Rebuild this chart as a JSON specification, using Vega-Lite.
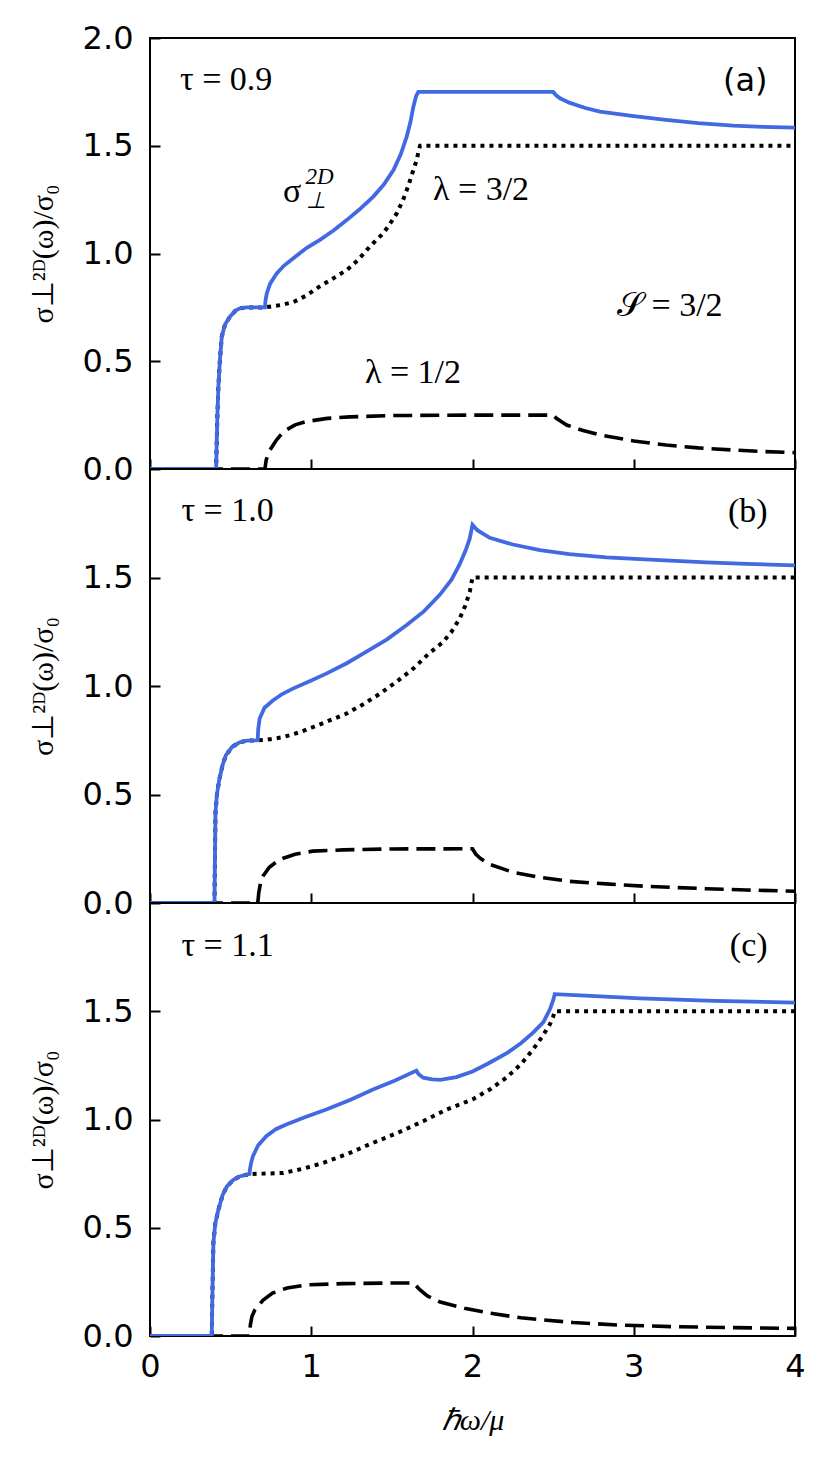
{
  "$schema": "https://vega.github.io/schema/vega-lite/v6.json",
  "padding": {"left": 27, "top": 21, "right": 5, "bottom": 5},
  "background": "white",
  "datasets": {
    "curves": [
      {"p": "a", "s": "tot", "x": 0, "y": 0}, {"p": "a", "s": "tot", "x": 0.41, "y": 0}, {"p": "a", "s": "tot", "x": 0.413, "y": 0.1},
      {"p": "a", "s": "tot", "x": 0.418, "y": 0.25}, {"p": "a", "s": "tot", "x": 0.424, "y": 0.38}, {"p": "a", "s": "tot", "x": 0.433, "y": 0.5},
      {"p": "a", "s": "tot", "x": 0.445, "y": 0.614}, {"p": "a", "s": "tot", "x": 0.465, "y": 0.67}, {"p": "a", "s": "tot", "x": 0.496, "y": 0.707},
      {"p": "a", "s": "tot", "x": 0.53, "y": 0.735}, {"p": "a", "s": "tot", "x": 0.558, "y": 0.746}, {"p": "a", "s": "tot", "x": 0.6, "y": 0.75},
      {"p": "a", "s": "tot", "x": 0.713, "y": 0.75}, {"p": "a", "s": "tot", "x": 0.716, "y": 0.78}, {"p": "a", "s": "tot", "x": 0.724, "y": 0.815},
      {"p": "a", "s": "tot", "x": 0.745, "y": 0.86}, {"p": "a", "s": "tot", "x": 0.786, "y": 0.908}, {"p": "a", "s": "tot", "x": 0.83, "y": 0.943},
      {"p": "a", "s": "tot", "x": 0.889, "y": 0.978}, {"p": "a", "s": "tot", "x": 0.97, "y": 1.025}, {"p": "a", "s": "tot", "x": 1.054, "y": 1.063},
      {"p": "a", "s": "tot", "x": 1.14, "y": 1.108}, {"p": "a", "s": "tot", "x": 1.22, "y": 1.155}, {"p": "a", "s": "tot", "x": 1.3, "y": 1.205},
      {"p": "a", "s": "tot", "x": 1.385, "y": 1.264}, {"p": "a", "s": "tot", "x": 1.45, "y": 1.32}, {"p": "a", "s": "tot", "x": 1.51, "y": 1.387},
      {"p": "a", "s": "tot", "x": 1.555, "y": 1.46}, {"p": "a", "s": "tot", "x": 1.592, "y": 1.542}, {"p": "a", "s": "tot", "x": 1.615, "y": 1.61},
      {"p": "a", "s": "tot", "x": 1.633, "y": 1.68}, {"p": "a", "s": "tot", "x": 1.65, "y": 1.73}, {"p": "a", "s": "tot", "x": 1.664, "y": 1.75},
      {"p": "a", "s": "tot", "x": 2.5, "y": 1.75}, {"p": "a", "s": "tot", "x": 2.52, "y": 1.733}, {"p": "a", "s": "tot", "x": 2.543, "y": 1.72},
      {"p": "a", "s": "tot", "x": 2.6, "y": 1.7}, {"p": "a", "s": "tot", "x": 2.7, "y": 1.675}, {"p": "a", "s": "tot", "x": 2.79, "y": 1.658},
      {"p": "a", "s": "tot", "x": 3.0, "y": 1.637}, {"p": "a", "s": "tot", "x": 3.2, "y": 1.62}, {"p": "a", "s": "tot", "x": 3.4, "y": 1.605},
      {"p": "a", "s": "tot", "x": 3.616, "y": 1.593}, {"p": "a", "s": "tot", "x": 3.8, "y": 1.588}, {"p": "a", "s": "tot", "x": 4.0, "y": 1.584},

      {"p": "a", "s": "l32", "x": 0, "y": 0}, {"p": "a", "s": "l32", "x": 0.41, "y": 0}, {"p": "a", "s": "l32", "x": 0.413, "y": 0.1},
      {"p": "a", "s": "l32", "x": 0.418, "y": 0.25}, {"p": "a", "s": "l32", "x": 0.424, "y": 0.38}, {"p": "a", "s": "l32", "x": 0.433, "y": 0.5},
      {"p": "a", "s": "l32", "x": 0.445, "y": 0.614}, {"p": "a", "s": "l32", "x": 0.465, "y": 0.67}, {"p": "a", "s": "l32", "x": 0.496, "y": 0.707},
      {"p": "a", "s": "l32", "x": 0.53, "y": 0.735}, {"p": "a", "s": "l32", "x": 0.558, "y": 0.746}, {"p": "a", "s": "l32", "x": 0.6, "y": 0.75},
      {"p": "a", "s": "l32", "x": 0.713, "y": 0.75}, {"p": "a", "s": "l32", "x": 0.76, "y": 0.755}, {"p": "a", "s": "l32", "x": 0.82, "y": 0.762},
      {"p": "a", "s": "l32", "x": 0.89, "y": 0.775}, {"p": "a", "s": "l32", "x": 0.97, "y": 0.805}, {"p": "a", "s": "l32", "x": 1.05, "y": 0.846},
      {"p": "a", "s": "l32", "x": 1.13, "y": 0.882}, {"p": "a", "s": "l32", "x": 1.22, "y": 0.923}, {"p": "a", "s": "l32", "x": 1.29, "y": 0.97},
      {"p": "a", "s": "l32", "x": 1.344, "y": 1.016}, {"p": "a", "s": "l32", "x": 1.4, "y": 1.06}, {"p": "a", "s": "l32", "x": 1.447, "y": 1.094},
      {"p": "a", "s": "l32", "x": 1.49, "y": 1.14}, {"p": "a", "s": "l32", "x": 1.53, "y": 1.186}, {"p": "a", "s": "l32", "x": 1.57, "y": 1.25},
      {"p": "a", "s": "l32", "x": 1.6, "y": 1.31}, {"p": "a", "s": "l32", "x": 1.63, "y": 1.38}, {"p": "a", "s": "l32", "x": 1.654, "y": 1.434},
      {"p": "a", "s": "l32", "x": 1.667, "y": 1.48}, {"p": "a", "s": "l32", "x": 1.675, "y": 1.5}, {"p": "a", "s": "l32", "x": 4.0, "y": 1.5},

      {"p": "a", "s": "l12", "x": 0, "y": 0}, {"p": "a", "s": "l12", "x": 0.713, "y": 0}, {"p": "a", "s": "l12", "x": 0.72, "y": 0.04},
      {"p": "a", "s": "l12", "x": 0.73, "y": 0.065}, {"p": "a", "s": "l12", "x": 0.744, "y": 0.088}, {"p": "a", "s": "l12", "x": 0.78, "y": 0.13},
      {"p": "a", "s": "l12", "x": 0.827, "y": 0.173}, {"p": "a", "s": "l12", "x": 0.9, "y": 0.205}, {"p": "a", "s": "l12", "x": 0.97, "y": 0.22},
      {"p": "a", "s": "l12", "x": 1.1, "y": 0.235}, {"p": "a", "s": "l12", "x": 1.24, "y": 0.242}, {"p": "a", "s": "l12", "x": 1.5, "y": 0.248},
      {"p": "a", "s": "l12", "x": 2.0, "y": 0.25}, {"p": "a", "s": "l12", "x": 2.5, "y": 0.25}, {"p": "a", "s": "l12", "x": 2.52, "y": 0.235},
      {"p": "a", "s": "l12", "x": 2.55, "y": 0.22}, {"p": "a", "s": "l12", "x": 2.584, "y": 0.204}, {"p": "a", "s": "l12", "x": 2.68, "y": 0.18},
      {"p": "a", "s": "l12", "x": 2.79, "y": 0.158}, {"p": "a", "s": "l12", "x": 3.0, "y": 0.13}, {"p": "a", "s": "l12", "x": 3.2, "y": 0.111},
      {"p": "a", "s": "l12", "x": 3.4, "y": 0.098}, {"p": "a", "s": "l12", "x": 3.616, "y": 0.088}, {"p": "a", "s": "l12", "x": 3.8, "y": 0.081},
      {"p": "a", "s": "l12", "x": 4.0, "y": 0.076},

      {"p": "b", "s": "tot", "x": 0, "y": 0}, {"p": "b", "s": "tot", "x": 0.4, "y": 0}, {"p": "b", "s": "tot", "x": 0.402, "y": 0.15},
      {"p": "b", "s": "tot", "x": 0.406, "y": 0.415}, {"p": "b", "s": "tot", "x": 0.415, "y": 0.5}, {"p": "b", "s": "tot", "x": 0.43, "y": 0.57},
      {"p": "b", "s": "tot", "x": 0.45, "y": 0.635}, {"p": "b", "s": "tot", "x": 0.47, "y": 0.68}, {"p": "b", "s": "tot", "x": 0.51, "y": 0.72},
      {"p": "b", "s": "tot", "x": 0.555, "y": 0.74}, {"p": "b", "s": "tot", "x": 0.6, "y": 0.748}, {"p": "b", "s": "tot", "x": 0.668, "y": 0.75},
      {"p": "b", "s": "tot", "x": 0.671, "y": 0.8}, {"p": "b", "s": "tot", "x": 0.68, "y": 0.85}, {"p": "b", "s": "tot", "x": 0.71, "y": 0.9},
      {"p": "b", "s": "tot", "x": 0.762, "y": 0.933}, {"p": "b", "s": "tot", "x": 0.82, "y": 0.963}, {"p": "b", "s": "tot", "x": 0.886, "y": 0.988},
      {"p": "b", "s": "tot", "x": 0.99, "y": 1.022}, {"p": "b", "s": "tot", "x": 1.093, "y": 1.057}, {"p": "b", "s": "tot", "x": 1.22, "y": 1.105},
      {"p": "b", "s": "tot", "x": 1.34, "y": 1.157}, {"p": "b", "s": "tot", "x": 1.47, "y": 1.215}, {"p": "b", "s": "tot", "x": 1.59, "y": 1.28},
      {"p": "b", "s": "tot", "x": 1.7, "y": 1.345}, {"p": "b", "s": "tot", "x": 1.797, "y": 1.42}, {"p": "b", "s": "tot", "x": 1.87, "y": 1.49},
      {"p": "b", "s": "tot", "x": 1.92, "y": 1.56}, {"p": "b", "s": "tot", "x": 1.96, "y": 1.63}, {"p": "b", "s": "tot", "x": 1.983, "y": 1.68},
      {"p": "b", "s": "tot", "x": 2.0, "y": 1.743}, {"p": "b", "s": "tot", "x": 2.03, "y": 1.718}, {"p": "b", "s": "tot", "x": 2.107, "y": 1.683},
      {"p": "b", "s": "tot", "x": 2.25, "y": 1.652}, {"p": "b", "s": "tot", "x": 2.418, "y": 1.626}, {"p": "b", "s": "tot", "x": 2.6, "y": 1.608},
      {"p": "b", "s": "tot", "x": 2.83, "y": 1.593}, {"p": "b", "s": "tot", "x": 3.1, "y": 1.582}, {"p": "b", "s": "tot", "x": 3.45, "y": 1.57},
      {"p": "b", "s": "tot", "x": 3.7, "y": 1.563}, {"p": "b", "s": "tot", "x": 4.0, "y": 1.556},

      {"p": "b", "s": "l32", "x": 0, "y": 0}, {"p": "b", "s": "l32", "x": 0.4, "y": 0}, {"p": "b", "s": "l32", "x": 0.402, "y": 0.15},
      {"p": "b", "s": "l32", "x": 0.406, "y": 0.415}, {"p": "b", "s": "l32", "x": 0.415, "y": 0.5}, {"p": "b", "s": "l32", "x": 0.43, "y": 0.57},
      {"p": "b", "s": "l32", "x": 0.45, "y": 0.635}, {"p": "b", "s": "l32", "x": 0.47, "y": 0.68}, {"p": "b", "s": "l32", "x": 0.51, "y": 0.72},
      {"p": "b", "s": "l32", "x": 0.555, "y": 0.74}, {"p": "b", "s": "l32", "x": 0.6, "y": 0.748}, {"p": "b", "s": "l32", "x": 0.668, "y": 0.75},
      {"p": "b", "s": "l32", "x": 0.72, "y": 0.752}, {"p": "b", "s": "l32", "x": 0.824, "y": 0.764}, {"p": "b", "s": "l32", "x": 0.92, "y": 0.785},
      {"p": "b", "s": "l32", "x": 1.01, "y": 0.81}, {"p": "b", "s": "l32", "x": 1.11, "y": 0.84}, {"p": "b", "s": "l32", "x": 1.217, "y": 0.872},
      {"p": "b", "s": "l32", "x": 1.32, "y": 0.915}, {"p": "b", "s": "l32", "x": 1.425, "y": 0.964}, {"p": "b", "s": "l32", "x": 1.53, "y": 1.02},
      {"p": "b", "s": "l32", "x": 1.632, "y": 1.08}, {"p": "b", "s": "l32", "x": 1.73, "y": 1.15}, {"p": "b", "s": "l32", "x": 1.818, "y": 1.203},
      {"p": "b", "s": "l32", "x": 1.87, "y": 1.25}, {"p": "b", "s": "l32", "x": 1.92, "y": 1.31}, {"p": "b", "s": "l32", "x": 1.955, "y": 1.37},
      {"p": "b", "s": "l32", "x": 1.983, "y": 1.434}, {"p": "b", "s": "l32", "x": 2.0, "y": 1.5}, {"p": "b", "s": "l32", "x": 4.0, "y": 1.5},

      {"p": "b", "s": "l12", "x": 0, "y": 0}, {"p": "b", "s": "l12", "x": 0.668, "y": 0}, {"p": "b", "s": "l12", "x": 0.675, "y": 0.05},
      {"p": "b", "s": "l12", "x": 0.685, "y": 0.09}, {"p": "b", "s": "l12", "x": 0.7, "y": 0.123}, {"p": "b", "s": "l12", "x": 0.74, "y": 0.165},
      {"p": "b", "s": "l12", "x": 0.803, "y": 0.2}, {"p": "b", "s": "l12", "x": 0.9, "y": 0.225}, {"p": "b", "s": "l12", "x": 1.01, "y": 0.239},
      {"p": "b", "s": "l12", "x": 1.2, "y": 0.245}, {"p": "b", "s": "l12", "x": 1.5, "y": 0.249}, {"p": "b", "s": "l12", "x": 2.0, "y": 0.25},
      {"p": "b", "s": "l12", "x": 2.02, "y": 0.225}, {"p": "b", "s": "l12", "x": 2.05, "y": 0.205}, {"p": "b", "s": "l12", "x": 2.107, "y": 0.178},
      {"p": "b", "s": "l12", "x": 2.25, "y": 0.142}, {"p": "b", "s": "l12", "x": 2.418, "y": 0.118}, {"p": "b", "s": "l12", "x": 2.6, "y": 0.1},
      {"p": "b", "s": "l12", "x": 2.83, "y": 0.088}, {"p": "b", "s": "l12", "x": 3.1, "y": 0.076}, {"p": "b", "s": "l12", "x": 3.45, "y": 0.066},
      {"p": "b", "s": "l12", "x": 3.7, "y": 0.06}, {"p": "b", "s": "l12", "x": 4.0, "y": 0.054},

      {"p": "c", "s": "tot", "x": 0, "y": 0}, {"p": "c", "s": "tot", "x": 0.383, "y": 0}, {"p": "c", "s": "tot", "x": 0.386, "y": 0.15},
      {"p": "c", "s": "tot", "x": 0.393, "y": 0.43}, {"p": "c", "s": "tot", "x": 0.405, "y": 0.52}, {"p": "c", "s": "tot", "x": 0.424, "y": 0.583},
      {"p": "c", "s": "tot", "x": 0.45, "y": 0.65}, {"p": "c", "s": "tot", "x": 0.476, "y": 0.69}, {"p": "c", "s": "tot", "x": 0.515, "y": 0.72},
      {"p": "c", "s": "tot", "x": 0.555, "y": 0.737}, {"p": "c", "s": "tot", "x": 0.617, "y": 0.748}, {"p": "c", "s": "tot", "x": 0.62, "y": 0.77},
      {"p": "c", "s": "tot", "x": 0.627, "y": 0.8}, {"p": "c", "s": "tot", "x": 0.638, "y": 0.83}, {"p": "c", "s": "tot", "x": 0.67, "y": 0.88},
      {"p": "c", "s": "tot", "x": 0.721, "y": 0.923}, {"p": "c", "s": "tot", "x": 0.78, "y": 0.955}, {"p": "c", "s": "tot", "x": 0.845, "y": 0.977},
      {"p": "c", "s": "tot", "x": 0.96, "y": 1.01}, {"p": "c", "s": "tot", "x": 1.093, "y": 1.046}, {"p": "c", "s": "tot", "x": 1.24, "y": 1.09},
      {"p": "c", "s": "tot", "x": 1.383, "y": 1.139}, {"p": "c", "s": "tot", "x": 1.52, "y": 1.18}, {"p": "c", "s": "tot", "x": 1.652, "y": 1.226},
      {"p": "c", "s": "tot", "x": 1.665, "y": 1.21}, {"p": "c", "s": "tot", "x": 1.694, "y": 1.193}, {"p": "c", "s": "tot", "x": 1.75, "y": 1.185},
      {"p": "c", "s": "tot", "x": 1.8, "y": 1.183}, {"p": "c", "s": "tot", "x": 1.9, "y": 1.196}, {"p": "c", "s": "tot", "x": 2.0, "y": 1.222},
      {"p": "c", "s": "tot", "x": 2.1, "y": 1.26}, {"p": "c", "s": "tot", "x": 2.21, "y": 1.305}, {"p": "c", "s": "tot", "x": 2.3, "y": 1.352},
      {"p": "c", "s": "tot", "x": 2.376, "y": 1.401}, {"p": "c", "s": "tot", "x": 2.44, "y": 1.45}, {"p": "c", "s": "tot", "x": 2.48, "y": 1.509},
      {"p": "c", "s": "tot", "x": 2.5, "y": 1.55}, {"p": "c", "s": "tot", "x": 2.51, "y": 1.579}, {"p": "c", "s": "tot", "x": 2.7, "y": 1.572},
      {"p": "c", "s": "tot", "x": 3.04, "y": 1.559}, {"p": "c", "s": "tot", "x": 3.5, "y": 1.548}, {"p": "c", "s": "tot", "x": 4.0, "y": 1.54},

      {"p": "c", "s": "l32", "x": 0, "y": 0}, {"p": "c", "s": "l32", "x": 0.383, "y": 0}, {"p": "c", "s": "l32", "x": 0.386, "y": 0.15},
      {"p": "c", "s": "l32", "x": 0.393, "y": 0.43}, {"p": "c", "s": "l32", "x": 0.405, "y": 0.52}, {"p": "c", "s": "l32", "x": 0.424, "y": 0.583},
      {"p": "c", "s": "l32", "x": 0.45, "y": 0.65}, {"p": "c", "s": "l32", "x": 0.476, "y": 0.69}, {"p": "c", "s": "l32", "x": 0.515, "y": 0.72},
      {"p": "c", "s": "l32", "x": 0.555, "y": 0.737}, {"p": "c", "s": "l32", "x": 0.617, "y": 0.748}, {"p": "c", "s": "l32", "x": 0.7, "y": 0.75},
      {"p": "c", "s": "l32", "x": 0.827, "y": 0.753}, {"p": "c", "s": "l32", "x": 0.95, "y": 0.773}, {"p": "c", "s": "l32", "x": 1.075, "y": 0.8},
      {"p": "c", "s": "l32", "x": 1.23, "y": 0.843}, {"p": "c", "s": "l32", "x": 1.383, "y": 0.892}, {"p": "c", "s": "l32", "x": 1.54, "y": 0.94},
      {"p": "c", "s": "l32", "x": 1.694, "y": 0.992}, {"p": "c", "s": "l32", "x": 1.84, "y": 1.046}, {"p": "c", "s": "l32", "x": 2.0, "y": 1.093},
      {"p": "c", "s": "l32", "x": 2.11, "y": 1.14}, {"p": "c", "s": "l32", "x": 2.21, "y": 1.193}, {"p": "c", "s": "l32", "x": 2.3, "y": 1.255},
      {"p": "c", "s": "l32", "x": 2.376, "y": 1.324}, {"p": "c", "s": "l32", "x": 2.43, "y": 1.38}, {"p": "c", "s": "l32", "x": 2.48, "y": 1.44},
      {"p": "c", "s": "l32", "x": 2.5, "y": 1.475}, {"p": "c", "s": "l32", "x": 2.51, "y": 1.5}, {"p": "c", "s": "l32", "x": 4.0, "y": 1.5},

      {"p": "c", "s": "l12", "x": 0, "y": 0}, {"p": "c", "s": "l12", "x": 0.617, "y": 0}, {"p": "c", "s": "l12", "x": 0.622, "y": 0.05},
      {"p": "c", "s": "l12", "x": 0.632, "y": 0.09}, {"p": "c", "s": "l12", "x": 0.65, "y": 0.12}, {"p": "c", "s": "l12", "x": 0.7, "y": 0.165},
      {"p": "c", "s": "l12", "x": 0.76, "y": 0.198}, {"p": "c", "s": "l12", "x": 0.85, "y": 0.222}, {"p": "c", "s": "l12", "x": 0.97, "y": 0.236},
      {"p": "c", "s": "l12", "x": 1.2, "y": 0.242}, {"p": "c", "s": "l12", "x": 1.5, "y": 0.245}, {"p": "c", "s": "l12", "x": 1.634, "y": 0.245},
      {"p": "c", "s": "l12", "x": 1.65, "y": 0.232}, {"p": "c", "s": "l12", "x": 1.675, "y": 0.213}, {"p": "c", "s": "l12", "x": 1.72, "y": 0.185},
      {"p": "c", "s": "l12", "x": 1.8, "y": 0.157}, {"p": "c", "s": "l12", "x": 1.95, "y": 0.128}, {"p": "c", "s": "l12", "x": 2.11, "y": 0.105},
      {"p": "c", "s": "l12", "x": 2.3, "y": 0.084}, {"p": "c", "s": "l12", "x": 2.625, "y": 0.062}, {"p": "c", "s": "l12", "x": 2.9, "y": 0.051},
      {"p": "c", "s": "l12", "x": 3.245, "y": 0.043}, {"p": "c", "s": "l12", "x": 3.6, "y": 0.039}, {"p": "c", "s": "l12", "x": 4.0, "y": 0.035}
    ],
    "labels": [
      {"p": "a", "k": "m", "x": 0.186, "y": 1.805, "t": "τ = 0.9"},
      {"p": "a", "k": "m", "x": 0.825, "y": 1.285, "t": "σ"},
      {"p": "a", "k": "sm", "x": 0.965, "y": 1.355, "t": "2D"},
      {"p": "a", "k": "sm", "x": 0.965, "y": 1.245, "t": "⊥"},
      {"p": "a", "k": "m", "x": 1.755, "y": 1.295, "t": "λ = 3/2"},
      {"p": "a", "k": "m", "x": 2.896, "y": 0.756, "t": "𝒮 = 3/2"},
      {"p": "a", "k": "m", "x": 1.333, "y": 0.445, "t": "λ = 1/2"},
      {"p": "a", "k": "ls", "x": 3.83, "y": 1.8, "t": "(a)"},
      {"p": "b", "k": "m", "x": 0.195, "y": 1.807, "t": "τ = 1.0"},
      {"p": "b", "k": "lr", "x": 3.83, "y": 1.8, "t": "(b)"},
      {"p": "c", "k": "m", "x": 0.195, "y": 1.8, "t": "τ = 1.1"},
      {"p": "c", "k": "lr", "x": 3.83, "y": 1.8, "t": "(c)"}
    ]
  },
  "vconcat": [
    {
      "width": 645,
      "height": 431,
      "layer": [
        {
          "data": {"name": "curves"},
          "transform": [{"filter": "datum.p == 'a' && datum.s == 'l12'"}],
          "mark": {"type": "line", "color": "black", "strokeWidth": 3.6, "strokeDash": [19, 8], "clip": true},
          "encoding": {
            "x": {"field": "x", "type": "quantitative", "scale": {"domain": [0, 4], "nice": false},
                  "axis": {"values": [0, 1, 2, 3, 4], "labels": false, "title": null}},
            "y": {"field": "y", "type": "quantitative", "scale": {"domain": [0, 2], "nice": false},
                  "axis": {"values": [0, 0.5, 1, 1.5, 2], "format": ".1f", "title": "σ⊥²ᴰ(ω)/σ₀"}}
          }
        },
        {
          "data": {"name": "curves"},
          "transform": [{"filter": "datum.p == 'a' && datum.s == 'l32'"}],
          "mark": {"type": "line", "color": "black", "strokeWidth": 4, "strokeDash": [4, 5], "strokeCap": "butt", "clip": true},
          "encoding": {"x": {"field": "x", "type": "quantitative"}, "y": {"field": "y", "type": "quantitative"}}
        },
        {
          "data": {"name": "curves"},
          "transform": [{"filter": "datum.p == 'a' && datum.s == 'tot'"}],
          "mark": {"type": "line", "color": "#4169e1", "strokeWidth": 3.8, "clip": true},
          "encoding": {"x": {"field": "x", "type": "quantitative"}, "y": {"field": "y", "type": "quantitative"}}
        },
        {
          "data": {"name": "labels"},
          "transform": [{"filter": "datum.p == 'a' && datum.k == 'm'"}],
          "mark": {"type": "text", "align": "left", "baseline": "middle", "font": "Liberation Serif", "fontSize": 34, "color": "black"},
          "encoding": {"x": {"field": "x", "type": "quantitative"}, "y": {"field": "y", "type": "quantitative"}, "text": {"field": "t"}}
        },
        {
          "data": {"name": "labels"},
          "transform": [{"filter": "datum.p == 'a' && datum.k == 'sm'"}],
          "mark": {"type": "text", "align": "left", "baseline": "middle", "font": "Liberation Serif", "fontStyle": "italic", "fontSize": 23, "color": "black"},
          "encoding": {"x": {"field": "x", "type": "quantitative"}, "y": {"field": "y", "type": "quantitative"}, "text": {"field": "t"}}
        },
        {
          "data": {"name": "labels"},
          "transform": [{"filter": "datum.p == 'a' && datum.k == 'ls'"}],
          "mark": {"type": "text", "align": "right", "baseline": "middle", "font": "DejaVu Sans", "fontSize": 32, "color": "black"},
          "encoding": {"x": {"field": "x", "type": "quantitative"}, "y": {"field": "y", "type": "quantitative"}, "text": {"field": "t"}}
        }
      ]
    },
    {
      "width": 645,
      "height": 434,
      "layer": [
        {
          "data": {"name": "curves"},
          "transform": [{"filter": "datum.p == 'b' && datum.s == 'l12'"}],
          "mark": {"type": "line", "color": "black", "strokeWidth": 3.6, "strokeDash": [19, 8], "clip": true},
          "encoding": {
            "x": {"field": "x", "type": "quantitative", "scale": {"domain": [0, 4], "nice": false},
                  "axis": {"values": [0, 1, 2, 3, 4], "labels": false, "title": null}},
            "y": {"field": "y", "type": "quantitative", "scale": {"domain": [0, 2], "nice": false},
                  "axis": {"values": [0, 0.5, 1, 1.5], "format": ".1f", "title": "σ⊥²ᴰ(ω)/σ₀"}}
          }
        },
        {
          "data": {"name": "curves"},
          "transform": [{"filter": "datum.p == 'b' && datum.s == 'l32'"}],
          "mark": {"type": "line", "color": "black", "strokeWidth": 4, "strokeDash": [4, 5], "strokeCap": "butt", "clip": true},
          "encoding": {"x": {"field": "x", "type": "quantitative"}, "y": {"field": "y", "type": "quantitative"}}
        },
        {
          "data": {"name": "curves"},
          "transform": [{"filter": "datum.p == 'b' && datum.s == 'tot'"}],
          "mark": {"type": "line", "color": "#4169e1", "strokeWidth": 3.8, "clip": true},
          "encoding": {"x": {"field": "x", "type": "quantitative"}, "y": {"field": "y", "type": "quantitative"}}
        },
        {
          "data": {"name": "labels"},
          "transform": [{"filter": "datum.p == 'b' && datum.k == 'm'"}],
          "mark": {"type": "text", "align": "left", "baseline": "middle", "font": "Liberation Serif", "fontSize": 34, "color": "black"},
          "encoding": {"x": {"field": "x", "type": "quantitative"}, "y": {"field": "y", "type": "quantitative"}, "text": {"field": "t"}}
        },
        {
          "data": {"name": "labels"},
          "transform": [{"filter": "datum.p == 'b' && datum.k == 'lr'"}],
          "mark": {"type": "text", "align": "right", "baseline": "middle", "font": "Liberation Serif", "fontSize": 34, "color": "black"},
          "encoding": {"x": {"field": "x", "type": "quantitative"}, "y": {"field": "y", "type": "quantitative"}, "text": {"field": "t"}}
        }
      ]
    },
    {
      "width": 645,
      "height": 433,
      "layer": [
        {
          "data": {"name": "curves"},
          "transform": [{"filter": "datum.p == 'c' && datum.s == 'l12'"}],
          "mark": {"type": "line", "color": "black", "strokeWidth": 3.6, "strokeDash": [19, 8], "clip": true},
          "encoding": {
            "x": {"field": "x", "type": "quantitative", "scale": {"domain": [0, 4], "nice": false},
                  "axis": {"values": [0, 1, 2, 3, 4], "format": "d", "title": "ℏω/μ", "titleFontStyle": "italic"}},
            "y": {"field": "y", "type": "quantitative", "scale": {"domain": [0, 2], "nice": false},
                  "axis": {"values": [0, 0.5, 1, 1.5], "format": ".1f", "title": "σ⊥²ᴰ(ω)/σ₀"}}
          }
        },
        {
          "data": {"name": "curves"},
          "transform": [{"filter": "datum.p == 'c' && datum.s == 'l32'"}],
          "mark": {"type": "line", "color": "black", "strokeWidth": 4, "strokeDash": [4, 5], "strokeCap": "butt", "clip": true},
          "encoding": {"x": {"field": "x", "type": "quantitative"}, "y": {"field": "y", "type": "quantitative"}}
        },
        {
          "data": {"name": "curves"},
          "transform": [{"filter": "datum.p == 'c' && datum.s == 'tot'"}],
          "mark": {"type": "line", "color": "#4169e1", "strokeWidth": 3.8, "clip": true},
          "encoding": {"x": {"field": "x", "type": "quantitative"}, "y": {"field": "y", "type": "quantitative"}}
        },
        {
          "data": {"name": "labels"},
          "transform": [{"filter": "datum.p == 'c' && datum.k == 'm'"}],
          "mark": {"type": "text", "align": "left", "baseline": "middle", "font": "Liberation Serif", "fontSize": 34, "color": "black"},
          "encoding": {"x": {"field": "x", "type": "quantitative"}, "y": {"field": "y", "type": "quantitative"}, "text": {"field": "t"}}
        },
        {
          "data": {"name": "labels"},
          "transform": [{"filter": "datum.p == 'c' && datum.k == 'lr'"}],
          "mark": {"type": "text", "align": "right", "baseline": "middle", "font": "Liberation Serif", "fontSize": 34, "color": "black"},
          "encoding": {"x": {"field": "x", "type": "quantitative"}, "y": {"field": "y", "type": "quantitative"}, "text": {"field": "t"}}
        }
      ]
    }
  ],
  "spacing": 0,
  "bounds": "flush",
  "config": {
    "view": {"stroke": "black", "strokeWidth": 2},
    "axis": {
      "domain": false,
      "grid": false,
      "ticks": true,
      "tickColor": "black",
      "tickWidth": 2,
      "tickSize": 10,
      "offset": -10,
      "labelFont": "DejaVu Sans",
      "labelFontSize": 32,
      "labelColor": "black",
      "labelFlush": false,
      "labelOverlap": false,
      "titleFont": "Liberation Serif",
      "titleFontSize": 30,
      "titleFontWeight": "normal",
      "titleColor": "black"
    },
    "axisY": {"labelPadding": 17, "titlePadding": 24},
    "axisX": {"labelPadding": 15, "titlePadding": 23}
  }
}
